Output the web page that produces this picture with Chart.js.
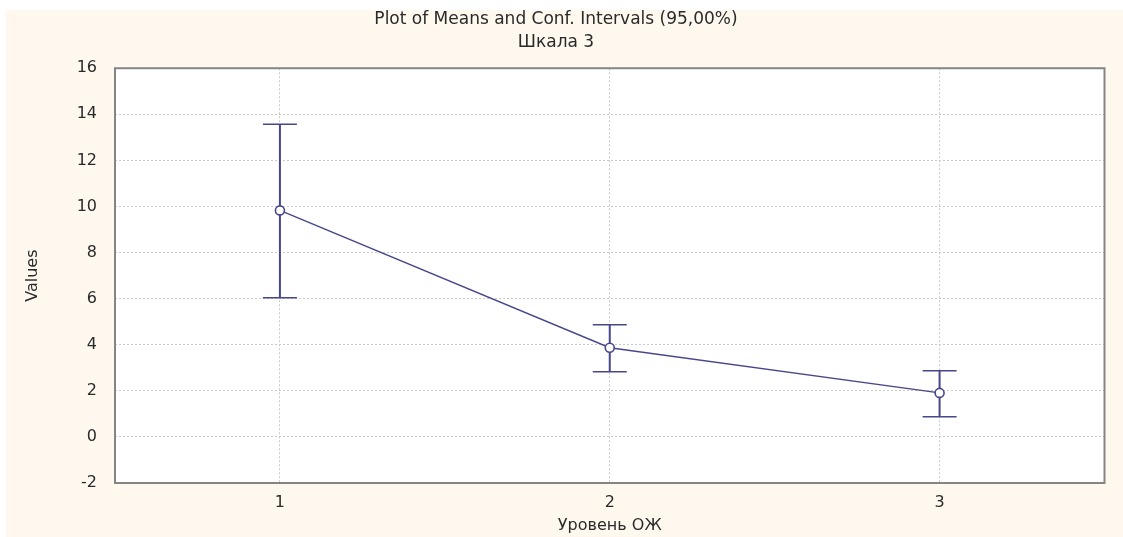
<!DOCTYPE html>
<html>
<head>
<meta charset="utf-8">
<script src="https://cdn.jsdelivr.net/npm/chart.js@4"></script>
<style>
  html, body { margin: 0; padding: 0; background: #fff; overflow: hidden; }
  canvas { display: block; }
</style>
</head>
<body>
<canvas id="means" width="1123" height="537"></canvas>
<script>
const levels = ['1', '2', '3'];
const means = [9.83, 3.87, 1.91];
const lower = [6.04, 2.83, 0.87];
const upper = [13.57, 4.87, 2.87];

const navy = '#47478c';
const fontName = "'DejaVu Sans', 'Liberation Sans', Arial, sans-serif";

// cream page, white plot area, grey frame
const backdrop = {
  id: 'backdrop',
  beforeDraw(chart) {
    const { ctx, chartArea: a } = chart;
    ctx.save();
    ctx.fillStyle = '#ffffff';
    ctx.fillRect(0, 0, chart.width, chart.height);
    ctx.fillStyle = '#fef8ef';
    ctx.fillRect(6, 10, chart.width - 6, chart.height - 10);
    ctx.fillStyle = '#ffffff';
    ctx.fillRect(a.left, a.top, a.right - a.left, a.bottom - a.top);
    ctx.restore();
  },
  afterDraw(chart) {
    const { ctx, chartArea: a } = chart;
    ctx.save();
    ctx.strokeStyle = '#858585';
    ctx.lineWidth = 2;
    ctx.strokeRect(a.left, a.top, a.right - a.left, a.bottom - a.top);
    ctx.restore();
  }
};

// one dataset per level for the 95% interval, caps drawn as 'line' points
const whiskers = levels.map((lvl, i) => ({
  data: [{ x: lvl, y: lower[i] }, { x: lvl, y: upper[i] }],
  borderColor: navy,
  borderWidth: 2,
  pointStyle: 'line',
  pointRadius: 17,
  pointBorderWidth: 1.5,
  pointBorderColor: navy,
  order: 1
}));

new Chart(document.getElementById('means'), {
  type: 'line',
  data: {
    labels: levels,
    datasets: [
      {
        data: means,
        borderColor: navy,
        borderWidth: 1.4,
        pointRadius: 4.5,
        pointBackgroundColor: '#ffffff',
        pointBorderColor: navy,
        pointBorderWidth: 1.6,
        tension: 0,
        order: 0
      },
      ...whiskers
    ]
  },
  options: {
    responsive: false,
    animation: false,
    devicePixelRatio: 1,
    layout: { padding: { left: 0, right: 11, top: 0, bottom: 0 } },
    plugins: {
      legend: { display: false },
      tooltip: { enabled: false },
      title: {
        display: true,
        text: ['Plot of Means and Conf. Intervals (95,00%)', 'Шкала 3'],
        color: '#2a2a2a',
        font: { family: fontName, size: 17, weight: 'normal', lineHeight: 1.36 },
        padding: { top: 8, bottom: 14 }
      }
    },
    scales: {
      x: {
        type: 'category',
        offset: true,
        afterFit: (s) => { s.height = 54; },
        grid: { offset: false, drawTicks: false, color: '#cacaca', lineWidth: 1 },
        border: { display: false, dash: [2, 2] },
        ticks: { color: '#2a2a2a', padding: 10, font: { family: fontName, size: 16 } },
        title: {
          display: true,
          text: 'Уровень ОЖ',
          color: '#2a2a2a',
          font: { family: fontName, size: 16 },
          padding: { top: 0, bottom: 2 }
        }
      },
      y: {
        min: -2,
        max: 16,
        afterFit: (s) => { s.width = 115; },
        grid: { drawTicks: false, color: '#cacaca', lineWidth: 1 },
        border: { display: false, dash: [2, 2] },
        ticks: { stepSize: 2, color: '#2a2a2a', padding: 18, font: { family: fontName, size: 16 } },
        title: {
          display: true,
          text: 'Values',
          color: '#2a2a2a',
          font: { family: fontName, size: 16 },
          padding: { top: 23, bottom: 0 }
        }
      }
    }
  },
  plugins: [backdrop]
});
</script>
</body>
</html>
